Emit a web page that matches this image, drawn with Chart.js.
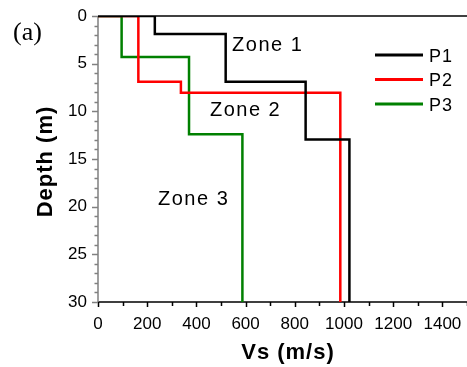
<!DOCTYPE html>
<html>
<head>
<meta charset="utf-8">
<script src="https://cdn.jsdelivr.net/npm/chart.js@4"></script>
<style>
  html, body { margin: 0; padding: 0; background: #fff; overflow: hidden; }
  #wrap { width: 467px; height: 367px; }
</style>
</head>
<body>
<div id="wrap"><canvas id="chart" width="467" height="367"></canvas></div>
<script>
// layer velocities (m/s) and layer bottom depths (m)
const seriesNames = ['P1', 'P2', 'P3'];
const seriesColors = ['#000000', '#ff0000', '#008000'];
const vsP1 = [231, 519, 844, 1022];
const bottomP1 = [1.9, 6.9, 12.95, 30];
const vsP2 = [164, 337, 985];
const bottomP2 = [6.9, 8.05, 30];
const vsP3 = [96, 370, 587];
const bottomP3 = [4.3, 12.4, 30];
const xTicks = [0, 200, 400, 600, 800, 1000, 1200, 1400];
const yTicks = [0, 5, 10, 15, 20, 25, 30];
const zoneNames = ['Zone 1', 'Zone 2', 'Zone 3'];

// label anchors in data units (left edge, baseline)
const zoneAnchors = [[545, 3.65], [455, 10.5], [244, 19.85]];

function profile(vs, bottoms) {
  const pts = [{x: 0, y: 0}];
  let top = 0;
  for (let i = 0; i < vs.length; i++) {
    pts.push({x: vs[i], y: top});
    pts.push({x: vs[i], y: bottoms[i]});
    top = bottoms[i];
  }
  return pts;
}

const profiles = [profile(vsP1, bottomP1), profile(vsP2, bottomP2), profile(vsP3, bottomP3)];

const FONT = '"Liberation Sans", Arial, sans-serif';

const decor = {
  id: 'decor',
  beforeDatasetsDraw(chart) {
    const ctx = chart.ctx;
    const a = chart.chartArea;
    const xs = chart.scales.x, ys = chart.scales.y;
    ctx.save();
    // top border
    ctx.strokeStyle = '#000';
    ctx.lineWidth = 1.5;
    ctx.beginPath();
    ctx.moveTo(a.left, a.top);
    ctx.lineTo(a.right, a.top);
    ctx.stroke();
    // bottom axis and ticks
    ctx.beginPath();
    ctx.moveTo(a.left, a.bottom);
    ctx.lineTo(a.right, a.bottom);
    for (let v = 0; v <= xs.max; v += 100) {
      const px = Math.round(xs.getPixelForValue(v)) + 0.5;
      ctx.moveTo(px, a.bottom);
      ctx.lineTo(px, a.bottom + (v % 200 === 0 ? 5 : 4));
    }
    ctx.stroke();
    // left axis (grey) and ticks
    ctx.strokeStyle = '#808080';
    ctx.beginPath();
    ctx.moveTo(a.left, a.top);
    ctx.lineTo(a.left, a.bottom);
    for (let d = 0; d <= ys.max; d += 1) {
      const py = Math.round(ys.getPixelForValue(d)) + 0.5;
      ctx.moveTo(a.left, py);
      ctx.lineTo(a.left - (d % 5 === 0 ? 6 : 3.5), py);
    }
    ctx.stroke();
    ctx.restore();
  },
  afterDraw(chart) {
    const ctx = chart.ctx;
    const xs = chart.scales.x, ys = chart.scales.y;
    ctx.save();
    ctx.fillStyle = '#000';
    ctx.textBaseline = 'alphabetic';
    ctx.textAlign = 'left';

    // zone labels
    ctx.font = '20px ' + FONT;
    ctx.letterSpacing = '1.5px';
    zoneNames.forEach((z, i) => {
      ctx.fillText(z, xs.getPixelForValue(zoneAnchors[i][0]), ys.getPixelForValue(zoneAnchors[i][1]));
    });

    // legend
    ctx.font = '18px ' + FONT;
    ctx.letterSpacing = '1px';
    chart.data.datasets.forEach((ds, i) => {
      const y = 55 + i * 24.5;
      ctx.strokeStyle = ds.borderColor;
      ctx.lineWidth = 3;
      ctx.beginPath();
      ctx.moveTo(375, y);
      ctx.lineTo(423, y);
      ctx.stroke();
      ctx.fillText(ds.label, 429, y + 6.5);
    });

    // panel letter
    ctx.letterSpacing = '0px';
    ctx.font = '26px "Liberation Serif", "Times New Roman", serif';
    ctx.fillText('(a)', 13, 40);

    // axis titles
    ctx.font = 'bold 22px ' + FONT;
    ctx.letterSpacing = '1px';
    ctx.textAlign = 'center';
    ctx.fillText('Vs (m/s)', 288, 359);
    ctx.translate(51.5, 161.5);
    ctx.rotate(-Math.PI / 2);
    ctx.fillText('Depth (m)', 0, 0);
    ctx.restore();
  }
};

const ctx = document.getElementById('chart').getContext('2d');
const myChart = new Chart(ctx, {
  type: 'line',
  data: {
    datasets: seriesNames.map((name, i) => ({
      label: name,
      data: profiles[i],
      borderColor: seriesColors[i],
      borderWidth: 2.5,
      pointRadius: 0,
      fill: false,
      tension: 0
    }))
  },
  options: {
    responsive: false,
    animation: false,
    events: [],
    layout: { padding: { top: 16, right: 0, left: 0, bottom: 0 } },
    plugins: { legend: { display: false }, tooltip: { enabled: false } },
    scales: {
      x: {
        type: 'linear',
        min: 0,
        max: 1500,
        afterFit(s) { s.height = 65; s.paddingRight = 0; s.paddingLeft = 0; },
        afterBuildTicks(s) { s.ticks = xTicks.map(v => ({value: v})); },
        grid: { display: false, drawTicks: false },
        border: { display: false },
        ticks: { font: { size: 17, family: FONT }, color: '#000', padding: 12, maxRotation: 0, autoSkip: false,
                 callback: v => String(v) }
      },
      y: {
        type: 'linear',
        reverse: true,
        min: 0,
        max: 30,
        afterFit(s) { s.width = 98; s.paddingTop = 0; s.paddingBottom = 0; },
        afterBuildTicks(s) { s.ticks = yTicks.map(v => ({value: v})); },
        grid: { display: false, drawTicks: false },
        border: { display: false },
        ticks: { font: { size: 17, family: FONT }, color: '#000', padding: 11, autoSkip: false,
                 callback: v => String(v) }
      }
    }
  },
  plugins: [decor]
});
</script>
</body>
</html>
